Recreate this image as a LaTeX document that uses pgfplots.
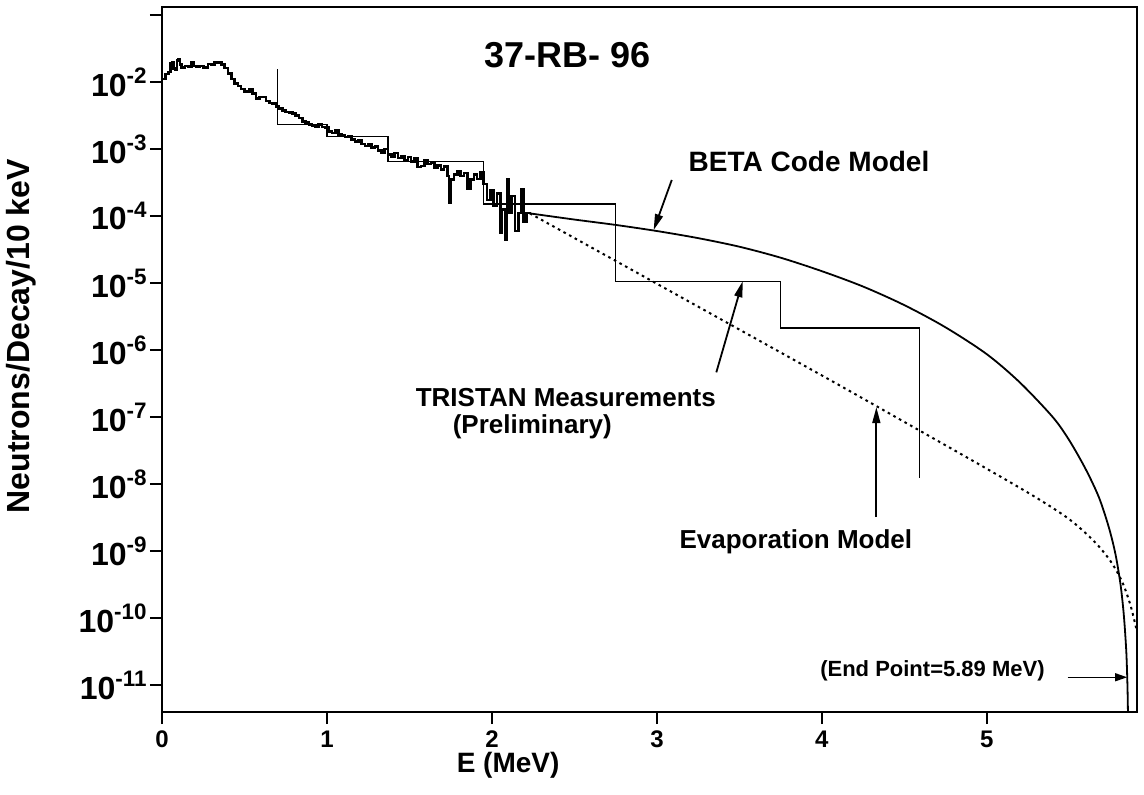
\documentclass[border=0pt]{standalone}
\usepackage{fontspec}
\setmainfont{Liberation Sans}
\usepackage{pgfplots}
\pgfplotsset{compat=1.18}
\usetikzlibrary{arrows.meta}

% measured spectrum (thick histogram)
\pgfplotstableread{
E v
0.00 1.12e-2
0.02 1.32e-2
0.04 1.41e-2
0.05 1.91e-2
0.06 2.00e-2
0.07 1.58e-2
0.08 1.51e-2
0.09 2.09e-2
0.10 2.19e-2
0.11 1.82e-2
0.12 1.66e-2
0.14 1.74e-2
0.16 1.70e-2
0.18 2.00e-2
0.19 1.74e-2
0.21 1.70e-2
0.23 1.74e-2
0.25 1.62e-2
0.27 1.66e-2
0.28 1.86e-2
0.30 1.82e-2
0.32 1.95e-2
0.34 1.95e-2
0.36 1.82e-2
0.38 1.62e-2
0.40 1.35e-2
0.42 1.12e-2
0.44 9.5e-3
0.46 8.7e-3
0.48 7.9e-3
0.50 7.1e-3
0.52 7.2e-3
0.53 7.9e-3
0.55 6.8e-3
0.57 5.75e-3
0.59 6.0e-3
0.61 6.0e-3
0.63 5.25e-3
0.65 4.9e-3
0.67 4.8e-3
0.69 4.3e-3
0.71 4.0e-3
0.73 3.8e-3
0.75 3.6e-3
0.77 3.55e-3
0.79 3.4e-3
0.81 3.2e-3
0.83 2.9e-3
0.85 2.6e-3
0.87 2.5e-3
0.89 2.35e-3
0.91 2.24e-3
0.93 2.19e-3
0.95 2.35e-3
0.97 2.14e-3
0.99 2.09e-3
1.01 1.82e-3
1.03 1.74e-3
1.05 1.90e-3
1.07 1.66e-3
1.09 1.62e-3
1.11 1.51e-3
1.13 1.58e-3
1.15 1.38e-3
1.17 1.29e-3
1.19 1.35e-3
1.21 1.20e-3
1.23 1.12e-3
1.25 1.17e-3
1.27 1.05e-3
1.29 1.10e-3
1.31 9.5e-4
1.33 8.9e-4
1.35 1.00e-3
1.37 8.3e-4
1.39 7.6e-4
1.41 8.7e-4
1.43 7.4e-4
1.45 7.9e-4
1.47 6.9e-4
1.49 7.6e-4
1.51 6.6e-4
1.53 7.2e-4
1.55 5.4e-4
1.57 5.6e-4
1.59 6.8e-4
1.61 6.0e-4
1.63 6.3e-4
1.65 5.25e-4
1.67 5.75e-4
1.69 5.0e-4
1.71 5.5e-4
1.73 4.0e-4
1.74 1.58e-4
1.75 3.55e-4
1.77 4.2e-4
1.79 4.7e-4
1.81 4.0e-4
1.83 4.4e-4
1.85 2.6e-4
1.87 3.55e-4
1.89 4.2e-4
1.91 3.6e-4
1.93 4.5e-4
1.95 3.0e-4
1.97 1.74e-4
1.99 2.4e-4
2.01 1.41e-4
2.03 2.2e-4
2.05 5.6e-5
2.06 1.26e-4
2.08 4.5e-5
2.09 3.55e-4
2.10 1.12e-4
2.12 2.0e-4
2.14 6.0e-5
2.16 1.12e-4
2.18 2.5e-4
2.19 8.3e-5
2.21 1.12e-4
2.23 1.07e-4
}\spectrum

\begin{document}
\begin{tikzpicture}
\begin{axis}[
    scale only axis,
    width=487.5pt, height=352.5pt,
    xmin=0, xmax=5.91,
    ymode=log, ymin=4e-12, ymax=0.132,
    axis line style={line width=1.1pt},
    tick align=outside,
    xtick pos=bottom, ytick pos=left,
    major tick length=6pt,
    tick style={black, line width=0.9pt},
    yminorticks=false,
    xtick={0,1,2,3,4,5},
    xticklabels={0,1,2,3,4,5},
    ytick={1e-1,1e-2,1e-3,1e-4,1e-5,1e-6,1e-7,1e-8,1e-9,1e-10,1e-11},
    yticklabels={{},10\textsuperscript{-2},10\textsuperscript{-3},10\textsuperscript{-4},
        10\textsuperscript{-5},10\textsuperscript{-6},10\textsuperscript{-7},10\textsuperscript{-8},
        10\textsuperscript{-9},10\textsuperscript{-10},10\textsuperscript{-11}},
    yticklabel style={font=\bfseries\fontsize{16}{16}\selectfont, inner sep=1pt},
    xticklabel style={font=\bfseries\fontsize{12}{12}\selectfont},
    xlabel={E (MeV)},
    xlabel style={font=\bfseries\fontsize{14}{14}\selectfont,
        at={(axis description cs:0.355,0)}, anchor=center, yshift=-26.5pt},
    ylabel={Neutrons/Decay/10 keV},
    ylabel style={font=\bfseries\fontsize{16}{16}\selectfont,
        at={(axis description cs:0,0.533)}, anchor=center, yshift=70.5pt},
]
% TRISTAN measurements (thin staircase)
\addplot[black, line width=0.6pt] coordinates {
    (0.70,1.55e-2) (0.70,2.35e-3) (1.00,2.35e-3) (1.00,1.55e-3) (1.37,1.55e-3)
    (1.37,6.6e-4) (1.95,6.6e-4) (1.95,1.52e-4) (2.75,1.52e-4) (2.75,1.07e-5)
    (3.75,1.07e-5) (3.75,2.14e-6) (4.59,2.14e-6) (4.59,1.26e-8)
};
% measured spectrum
\addplot[black, line width=1.3pt, const plot] table[x=E, y=v] {\spectrum};
% BETA code model
\addplot[black, line width=0.9pt, smooth] coordinates {
    (2.23,1.10e-4) (2.50,8.9e-5) (2.75,7.4e-5) (3.00,6.0e-5) (3.25,4.7e-5)
    (3.50,3.5e-5) (3.75,2.4e-5) (4.00,1.51e-5) (4.25,8.9e-6) (4.50,4.7e-6)
    (4.75,2.19e-6) (5.00,8.7e-7) (5.20,3.3e-7) (5.40,1.0e-7) (5.50,4.5e-8)
    (5.60,1.66e-8) (5.68,6.3e-9) (5.74,2.24e-9) (5.78,8.9e-10) (5.81,3.2e-10)
    (5.83,1.12e-10) (5.845,3.2e-11) (5.852,1.0e-11) (5.855,4e-12)
};
% evaporation model (dotted)
\addplot[black, line width=1pt, dash pattern=on 1.3pt off 1.9pt, smooth] coordinates {
    (2.23,1.10e-4) (3.00,9.8e-6) (4.00,4.2e-7) (4.50,8.5e-8) (5.00,1.70e-8)
    (5.30,6.3e-9) (5.50,3.0e-9) (5.65,1.41e-9) (5.75,7.1e-10) (5.82,3.5e-10)
    (5.87,1.58e-10) (5.91,6.3e-11)
};
% end point marker
\addplot[black, line width=0.6pt] coordinates {(5.85,1.32e-11) (5.85,4e-12)};
\draw[black, line width=0.7pt, -{Triangle[length=6pt,width=4pt]}]
    (axis cs:5.49,1.32e-11) -- (axis cs:5.85,1.32e-11);

% annotation arrows
\draw[black, line width=0.9pt, -{Triangle[length=8pt,width=4pt]}]
    (axis cs:3.09,3.47e-4) -- (axis cs:2.98,6.2e-5);
\draw[black, line width=0.9pt, -{Triangle[length=8pt,width=4pt]}]
    (axis cs:3.36,4.68e-7) -- (axis cs:3.52,1.07e-5);
\draw[black, line width=0.9pt, -{Triangle[length=8pt,width=4pt]}]
    (axis cs:4.33,3.24e-9) -- (axis cs:4.33,1.41e-7);

% texts
\node[anchor=west, font=\bfseries\fontsize{18}{18}\selectfont] at (axis cs:1.91,2.51e-2) {37-RB- 96};
\node[anchor=west, font=\bfseries\fontsize{14}{14}\selectfont] at (axis cs:3.15,6.6e-4) {BETA Code Model};
\node[anchor=east, font=\bfseries\fontsize{13}{13}\selectfont] at (axis cs:3.40,2.0e-7) {TRISTAN Measurements};
\node[anchor=west, font=\bfseries\fontsize{13}{13}\selectfont] at (axis cs:1.72,7.2e-8) {(Preliminary)};
\node[anchor=east, font=\bfseries\fontsize{13}{13}\selectfont] at (axis cs:4.59,1.41e-9) {Evaporation Model};
\node[font=\bfseries\fontsize{11}{11}\selectfont] at (axis cs:4.67,1.66e-11) {(End Point=5.89 MeV)};
\end{axis}
\pgfresetboundingbox
\path[use as bounding box] ([xshift=-81pt,yshift=-41pt]current axis.south west)
    rectangle ([xshift=3.5pt,yshift=3.5pt]current axis.north east);
\end{tikzpicture}
\end{document}
